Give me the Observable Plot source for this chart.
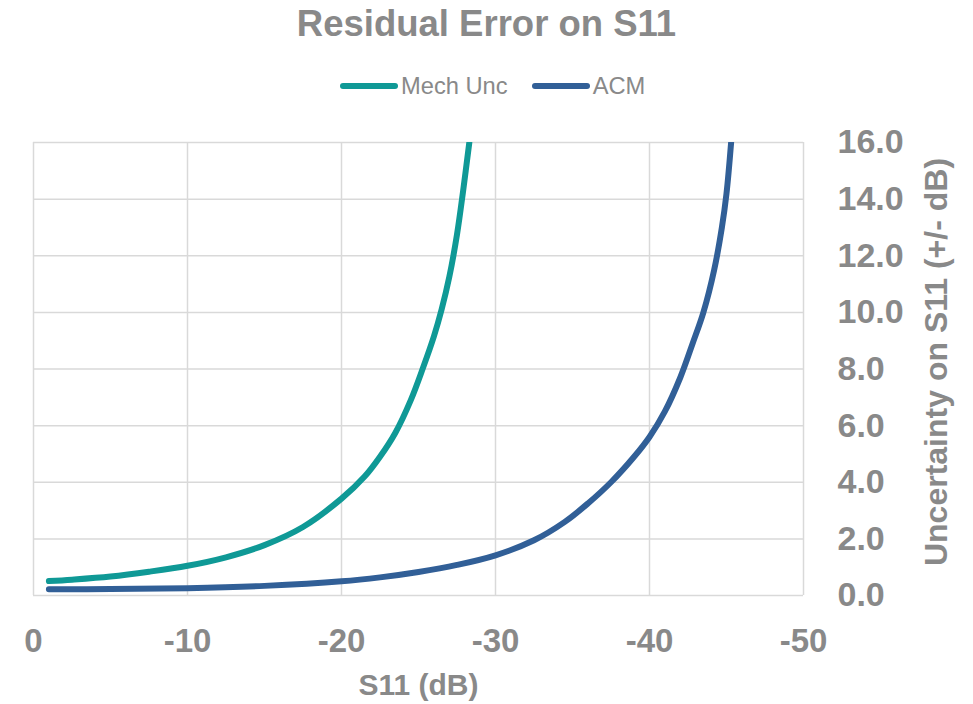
<!DOCTYPE html>
<html>
<head>
<meta charset="utf-8">
<script src="https://cdn.jsdelivr.net/npm/d3@7"></script>
<script src="https://cdn.jsdelivr.net/npm/@observablehq/plot@0.6"></script>
<style>
  html, body { margin: 0; padding: 0; background: #ffffff; }
  #wrap { position: relative; width: 973px; height: 704px; font-family: "Liberation Sans", Arial, sans-serif; color: #898989; }
  #head { position: relative; width: 973px; height: 110px; }
  #title { position: absolute; left: 0; width: 973px; top: 6px; text-align: center; font-size: 36.5px; line-height: 36px; font-weight: bold; }
  #legend { position: absolute; left: 340px; top: 74px; display: flex; align-items: center; font-size: 23.7px; line-height: 24px; }
  .sw { display: inline-block; width: 58px; height: 6.5px; border-radius: 3.5px; margin-right: 3px; }
  .item { display: flex; align-items: center; margin-right: 24px; }
</style>
</head>
<body>
<div id="wrap">
  <div id="head">
    <div id="title"></div>
    <div id="legend"></div>
  </div>
  <div id="chart"></div>
</div>
<script>
const titleText = "Residual Error on S11";
const xLabel = "S11 (dB)";
const yLabel = "Uncertainty on S11 (+/- dB)";
const seriesNames = ["Mech Unc", "ACM"];
const seriesColors = ["#0f9996", "#315f97"];
const xTicks = [0, -10, -20, -30, -40, -50];
const yTicks = [0, 2, 4, 6, 8, 10, 12, 14, 16];

const s11Mech = [-1, -2.5, -5, -7.5, -10, -12.5, -15, -17.5, -20, -21.5, -22.5, -23.5, -24.5, -25.3, -26, -26.5, -27, -27.5, -27.9, -28.3];
const uncMech = [0.51, 0.56, 0.67, 0.84, 1.05, 1.35, 1.78, 2.42, 3.42, 4.2, 4.9, 5.75, 6.9, 8.05, 9.15, 10.1, 11.25, 12.75, 14.3, 16.0];

const s11Acm = [-1, -5, -10, -15, -20, -22.5, -25, -27.5, -30, -32.5, -34.5, -36, -37.5, -39, -40, -41, -42, -42.8, -43.5, -44.2, -44.7, -45.0, -45.3];
const uncAcm = [0.22, 0.23, 0.26, 0.34, 0.5, 0.64, 0.83, 1.08, 1.42, 1.95, 2.6, 3.25, 4.0, 4.9, 5.6, 6.5, 7.7, 8.9, 10.0, 11.5, 13.0, 14.2, 16.0];

const rows = [];
s11Mech.forEach((x, i) => rows.push({series: seriesNames[0], x, y: uncMech[i]}));
s11Acm.forEach((x, i) => rows.push({series: seriesNames[1], x, y: uncAcm[i]}));
const sorted = d3.sort(rows, d => d.series, d => d.x);

document.getElementById("title").textContent = titleText;
const leg = document.getElementById("legend");
seriesNames.forEach((n, i) => {
  const it = document.createElement("div");
  it.className = "item";
  const sw = document.createElement("span");
  sw.className = "sw";
  sw.style.background = seriesColors[i];
  const t = document.createElement("span");
  t.textContent = n;
  it.appendChild(sw); it.appendChild(t);
  leg.appendChild(it);
});

const fmtX = d => String(d);
const fmtY = d => d.toFixed(1);
const grid = {stroke: "#d9d9d9", strokeOpacity: 1, strokeWidth: 1.5};

const chart = Plot.plot({
  width: 973,
  height: 594,
  marginTop: 32,
  marginBottom: 109,
  marginLeft: 33,
  marginRight: 170,
  style: {fontFamily: '"Liberation Sans", Arial, sans-serif', color: "#898989", background: "#ffffff"},
  x: {domain: [0, -50], ticks: xTicks, tickFormat: fmtX},
  y: {domain: [0, 16], ticks: yTicks, tickFormat: fmtY},
  color: {domain: seriesNames, range: seriesColors},
  marks: [
    Plot.gridX(xTicks, grid),
    Plot.gridY(yTicks, grid),
    Plot.axisX({ticks: xTicks, tickFormat: fmtX, tickSize: 0, tickPadding: 33, fontSize: 33, fontWeight: "bold", label: null}),
    Plot.axisY({anchor: "right", ticks: yTicks, tickFormat: fmtY, tickSize: 0, tickPadding: 34, fontSize: 34, fontWeight: "bold", label: null}),
    Plot.line(sorted, {x: "x", y: "y", z: "series", stroke: "series", strokeWidth: 6, curve: "catmull-rom", clip: true}),
    Plot.text([xLabel], {frameAnchor: "bottom", text: d => d, dy: 99, fontSize: 30, fontWeight: "bold", fill: "#898989"}),
    Plot.text([yLabel], {frameAnchor: "right", textAnchor: "middle", text: d => d, dx: 133, dy: -7, rotate: -90, fontSize: 32, fontWeight: "bold", fill: "#898989"})
  ]
});
document.getElementById("chart").appendChild(chart);
</script>
</body>
</html>
